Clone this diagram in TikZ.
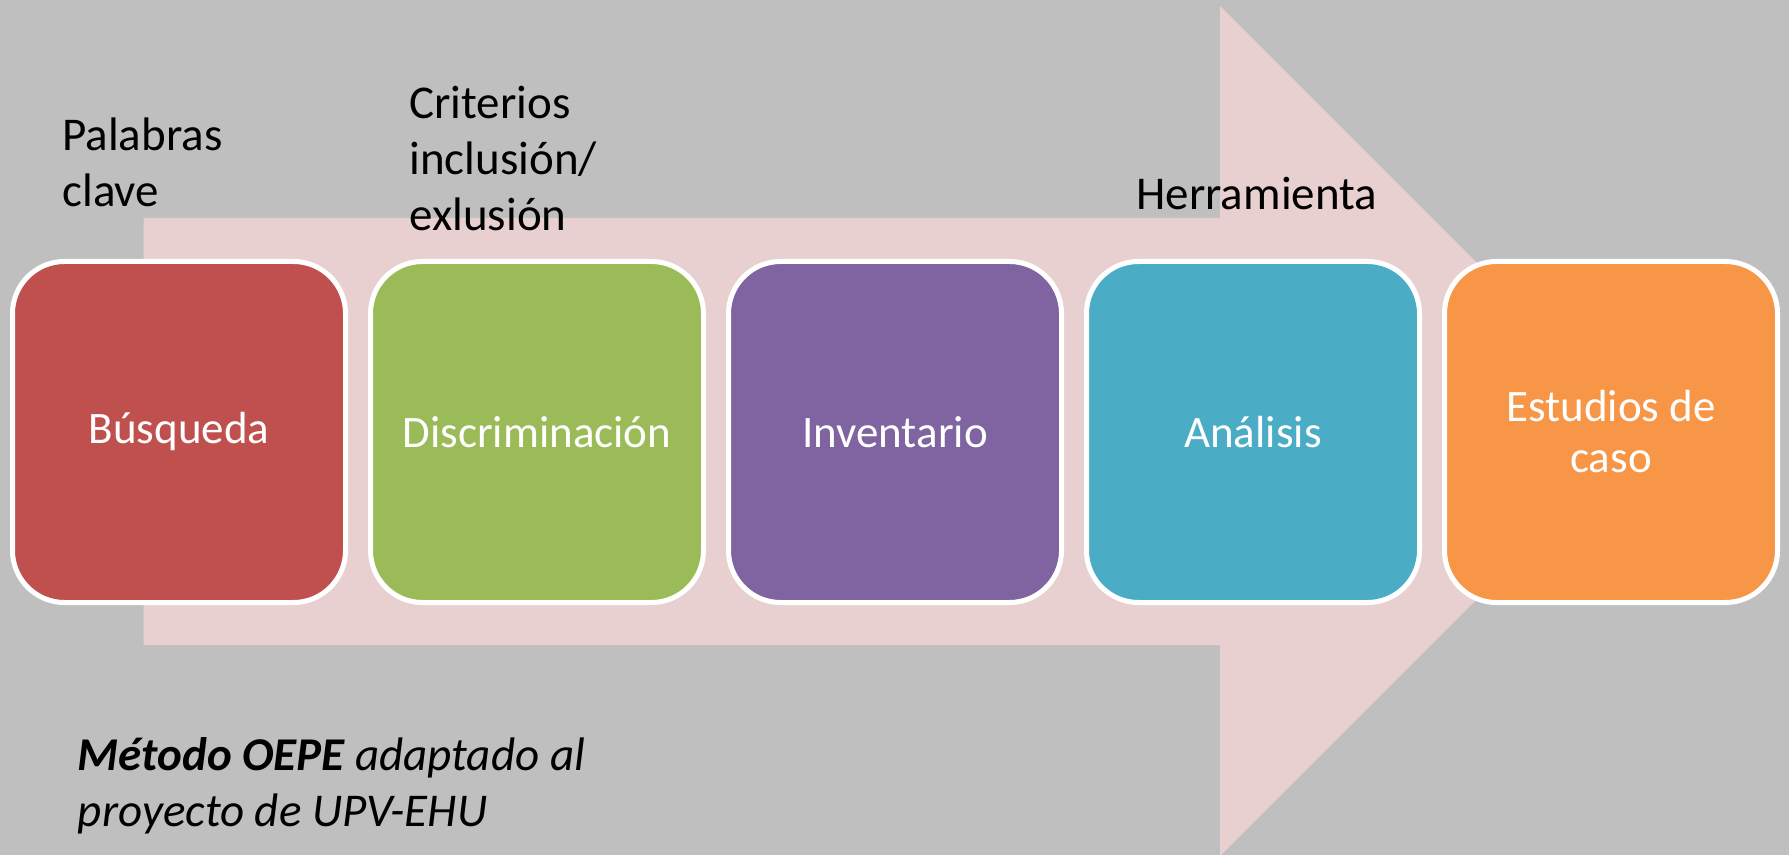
\documentclass[tikz,border=0pt]{standalone}
\usepackage{fontspec}
\setmainfont{Carlito}
\definecolor{bggray}{HTML}{BFBFBF}
\definecolor{arrowpink}{HTML}{E8D0D0}
\definecolor{cred}{HTML}{C0504D}
\definecolor{cgreen}{HTML}{9BBB59}
\definecolor{cpurple}{HTML}{8064A2}
\definecolor{cblue}{HTML}{4BACC6}
\definecolor{corange}{HTML}{F79646}
\begin{document}
\begin{tikzpicture}[x=0.5pt,y=-0.5pt,
  stepbox/.style={draw=white, line width=2.5pt, rounded corners=26pt,
    minimum width=166.5pt, minimum height=170.5pt, inner sep=0pt,
    text=white, align=center, font=\fontsize{22.5}{25.5}\selectfont},
  steplabel/.style={anchor=base west, inner sep=0pt, text=black,
    font=\fontsize{23.5}{28}\selectfont}]
\fill[bggray] (0,0) rectangle (1789,855);
\useasboundingbox (0,0) rectangle (1789,855);
\fill[arrowpink] (143.5,218) -- (1220,218) -- (1220,6) -- (1645,431)
  -- (1220,856) -- (1220,645) -- (143.5,645) -- cycle;
\node[stepbox, fill=cred] (b1) at (179,432) {Búsqueda};
\node[stepbox, fill=cgreen] (b2) at (537,432) {Discriminación};
\node[stepbox, fill=cpurple] (b3) at (895,432) {Inventario};
\node[stepbox, fill=cblue] (b4) at (1253,432) {Análisis};
\node[stepbox, fill=corange] (b5) at (1611,432) {Estudios de\\caso};
\node[steplabel] (l1) at (62,151) {\begin{tabular}[t]{@{}l@{}}Palabras\\clave\end{tabular}};
\node[steplabel] (l2) at (409,119) {\begin{tabular}[t]{@{}l@{}}Criterios\\inclusión/\\exlusión\end{tabular}};
\node[steplabel] (l4) at (1136,210) {Herramienta};
\node[steplabel] (cap) at (77.5,770) {\begin{tabular}[t]{@{}l@{}}\itshape\bfseries Método OEPE \mdseries adaptado al\\\itshape proyecto de UPV-EHU\end{tabular}};
\end{tikzpicture}
\end{document}
